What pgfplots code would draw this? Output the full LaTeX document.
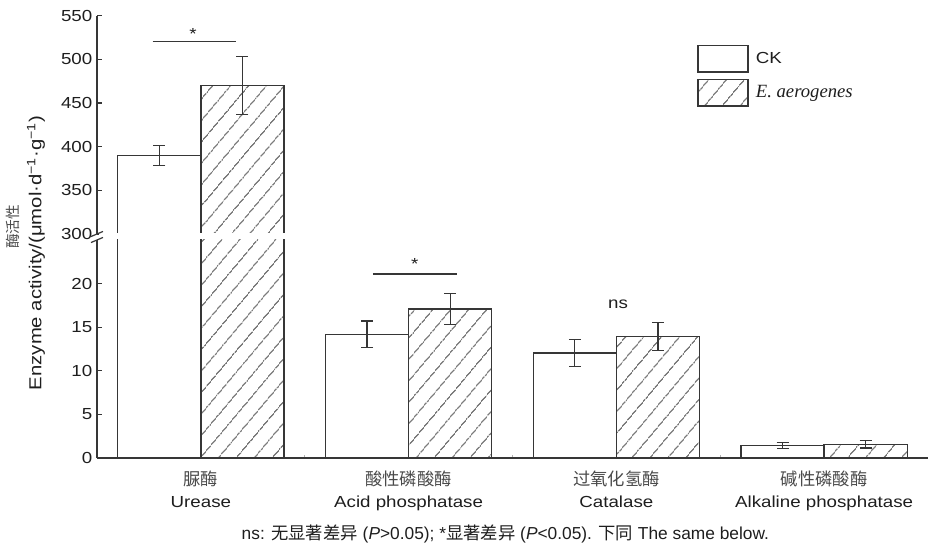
\documentclass[border=0pt]{standalone}
\usepackage{fontspec}
\setmainfont{Liberation Sans}
\newfontfamily\wide[FakeStretch=1.17]{Liberation Sans}
\newfontfamily\cjk{Noto Sans CJK SC}
\newfontfamily\serif{Liberation Serif}
\usepackage{pgfplots}
\usepackage{pgfplotstable}
\pgfplotsset{compat=1.18}
\usetikzlibrary{patterns.meta}

\definecolor{ln}{HTML}{363636}
\definecolor{txt}{HTML}{1E1E1E}
\definecolor{cjkc}{HTML}{4A4A4A}

\pgfplotstableread{
x y err
0 390 11.5
1 14.2 1.5
2 12.05 1.55
3 1.45 0.35
}\ck
\pgfplotstableread{
x y err
0 470 33.4
1 17.1 1.8
2 13.9 1.6
3 1.57 0.42
}\ea

\tikzset{hatch/.style={pattern={Lines[angle=50,distance=10.5pt,line width=0.75pt]},pattern color=ln}}

\pgfplotsset{mybars/.style={
  scale only axis, width=623.25pt, xmin=-0.5, xmax=3.5,
  ybar=0pt, bar width=0.4,
  axis y line*=left, tick align=inside, major tick length=3.5pt,
  tick style={ln, line width=0.8pt}, axis line style={ln, line width=1pt},
  yticklabel style={font=\wide\fontsize{12}{12}\selectfont, text=txt},
  /pgf/number format/assume math mode=true,
  clip=true,
}}
\pgfplotsset{ckplot/.style={draw=ln, fill=white, line width=1pt, bar shift=-0.2,
  error bars/y dir=both, error bars/y explicit,
  error bars/error mark options={rotate=90, mark size=4.5pt, line width=0.9pt, ln},
  error bars/error bar style={line width=0.9pt, ln},
  legend image code/.code={\draw[draw=ln,fill=white,line width=1pt] (0pt,-10pt) rectangle (37.5pt,10pt);}},
  eaplot/.style={draw=ln, line width=1pt, hatch, bar shift=0.2,
  error bars/y dir=both, error bars/y explicit,
  error bars/error mark options={rotate=90, mark size=4.5pt, line width=0.9pt, ln},
  error bars/error bar style={line width=0.9pt, ln},
  legend image code/.code={\draw[draw=ln,line width=1pt,hatch] (0pt,-10pt) rectangle (37.5pt,10pt);}}}

\begin{document}
\begin{tikzpicture}
\path[use as bounding box] (0,0) rectangle (696pt,414pt);

% lower axis
\begin{axis}[mybars, at={(72.75pt,70.5pt)}, anchor=south west, height=163.5pt,
  ymin=0, ymax=25, ytick={0,5,10,15,20},
  axis x line*=bottom,
  xtick={0,1,2,3},
  xticklabels={{{\cjk\fontsize{13}{13}\selectfont\color{cjkc}脲酶}\\Urease},{{\cjk\fontsize{13}{13}\selectfont\color{cjkc}酸性磷酸酶}\\Acid phosphatase},{{\cjk\fontsize{13}{13}\selectfont\color{cjkc}过氧化氢酶}\\Catalase},{{\cjk\fontsize{13}{13}\selectfont\color{cjkc}碱性磷酸酶}\\Alkaline phosphatase}},
  xticklabel style={align=center, font=\wide\fontsize{12}{16.5}\selectfont, text=txt, yshift=-6pt},
  minor xtick={0.5,1.5,2.5},
  major x tick style={draw=none},
  minor tick length=2.5pt,
  minor x tick style={gray!60, line width=0.8pt},
]
\addplot[ckplot] table[x=x,y=y,y error=err]{\ck};
\addplot[eaplot] table[x=x,y=y,y error=err]{\ea};
\draw[ln, line width=0.9pt] (axis cs:0.828,21.1) -- (axis cs:1.231,21.1);
\node[txt, font=\wide\fontsize{12}{12}\selectfont] at (axis cs:1.03,22.3) {*};
\node[txt, font=\wide\fontsize{12}{12}\selectfont] at (axis cs:2.008,17.6) {ns};
\end{axis}

% upper axis
\begin{axis}[mybars, at={(72.75pt,238.5pt)}, anchor=south west, height=163.725pt,
  ymin=300, ymax=550, ytick={300,350,...,550},
  axis x line=none,
  y filter/.expression={y<300 ? nan : y},
  legend style={draw=none, fill=none, at={(0.722,0.869)}, anchor=north west, inner sep=0pt,
    row sep=4.5pt, font=\wide\fontsize{12}{12}\selectfont, text=txt,
    /tikz/every odd column/.append style={column sep=3.5pt}},
  legend cell align=left,
]
\addplot[ckplot] table[x=x,y=y,y error=err]{\ck};
\addplot[eaplot] table[x=x,y=y,y error=err]{\ea};
\legend{CK,{\serif\itshape\fontsize{14}{14}\selectfont E. aerogenes}}
\draw[ln, line width=0.9pt] (axis cs:-0.232,520.3) -- (axis cs:0.169,520.3);
\node[txt, font=\wide\fontsize{12}{12}\selectfont] at (axis cs:-0.038,529) {*};
\end{axis}

% hide bar bottoms at the break
\fill[white] (74.5pt,234.9pt) rectangle (696pt,239.6pt);
% axis break marks
\draw[ln, line width=0.9pt] (68.25pt,236.6pt) -- (77.25pt,240.4pt);
\draw[ln, line width=0.9pt] (68.25pt,232.1pt) -- (77.25pt,235.9pt);

% y label
\node[rotate=90, txt, font=\wide\fontsize{13}{13}\selectfont] at (27pt,224.25pt) {Enzyme activity/(μmol·d\textsuperscript{−1}·g\textsuperscript{−1})};
\node[rotate=90, cjkc, font=\cjk\fontsize{11}{11}\selectfont] at (9.75pt,243.75pt) {酶活性};

% caption
\node[txt, font=\fontsize{13}{13}\selectfont] at (379pt,13.5pt) {ns: {\cjk 无显著差异} (\textit{P}>0.05); *{\cjk 显著差异} (\textit{P}<0.05). {\cjk 下同} The same below.};
\end{tikzpicture}
\end{document}
